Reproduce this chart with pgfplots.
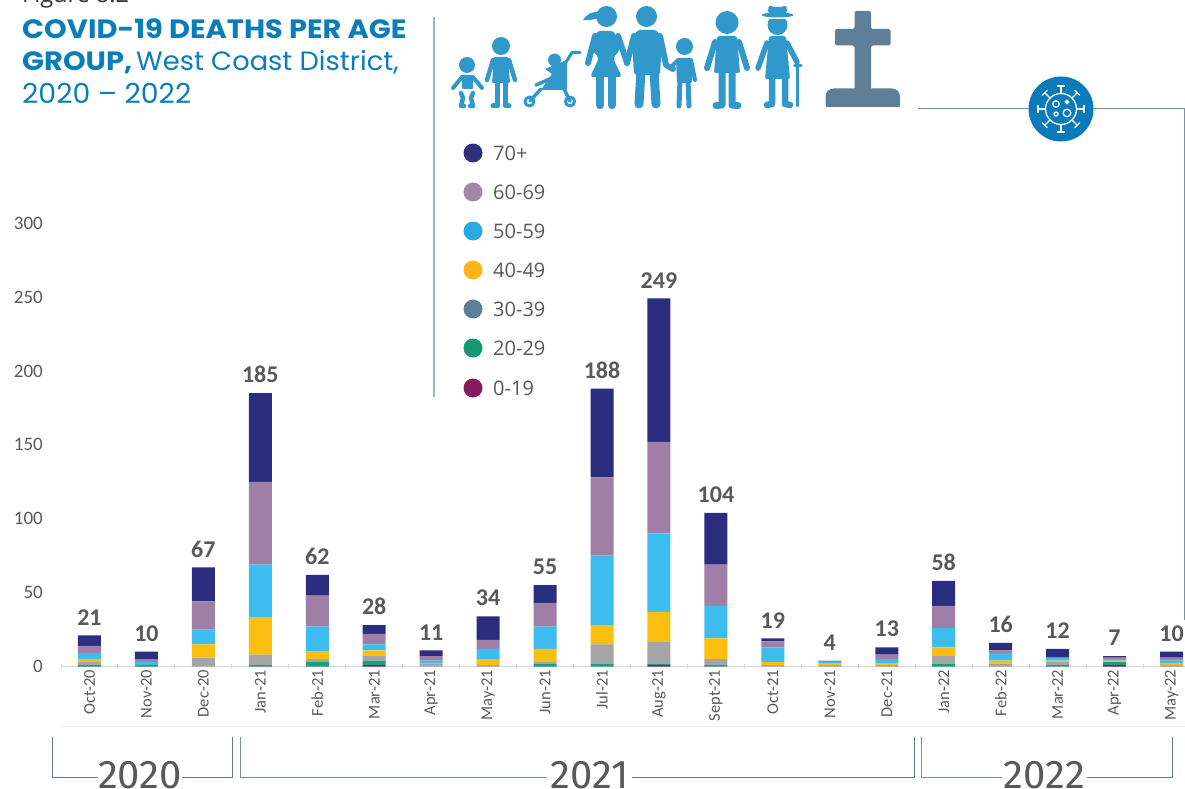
\documentclass[border=0pt]{standalone}
\usepackage{pgfplots}
\usepackage{pgfplotstable}
\usepackage{fontspec}
\usetikzlibrary{calc}
\pgfplotsset{compat=1.18}
\setmainfont{Carlito}
\newfontfamily\titlef[FakeStretch=1.03]{Poppins}
\newfontfamily\titleb[FakeStretch=1.09]{Poppins}
\newfontfamily\legf{Open Sans}
\newfontfamily\yearf{Fira Sans}
\definecolor{cnavy}{HTML}{2B2D7E}
\definecolor{cmauve}{HTML}{9F7FA5}
\definecolor{cblue}{HTML}{3DBDEF}
\definecolor{cyellow}{HTML}{FDBE10}
\definecolor{cgray}{HTML}{A5A5A5}
\definecolor{cgreen}{HTML}{1A9E7C}
\definecolor{cpurple}{HTML}{8B1A5C}
\definecolor{txt}{HTML}{595959}
\definecolor{person}{HTML}{3198CB}
\definecolor{slate}{HTML}{5E7F97}
\definecolor{titleblue}{HTML}{0B7DBB}
\definecolor{virus}{HTML}{0B7ABA}
\pgfplotstableread{
x a b c d e f g total
0 0 1 2 2 4 5 7 21
1 0 1 0 0 2 2 5 10
2 0 0 6 9 10 19 23 67
3 0 1 7 25 36 56 60 185
4 0 3 2 5 17 21 14 62
5 1 3 3 4 4 7 6 28
6 0 0 2 0 2 3 4 11
7 0 0 1 4 7 6 16 34
8 0 2 1 9 15 16 12 55
9 0 2 13 13 47 53 60 188
10 1 1 15 20 53 62 97 249
11 0 1 4 14 22 28 35 104
12 0 0 1 2 10 4 2 19
13 0 0 1 1 1 1 0 4
14 0 0 1 1 3 3 5 13
15 0 2 5 6 13 15 17 58
16 0 0 2 2 5 2 5 16
17 0 1 2 1 2 0 6 12
18 1 2 0 1 1 1 1 7
19 0 0 1 1 2 2 4 10
}\deaths
\begin{document}
\begin{tikzpicture}
\useasboundingbox (0,0) rectangle (1185pt,-789pt);
\clip (0,0) rectangle (1185pt,-789pt);
\begin{axis}[
  at={(61pt,-666.5pt)}, anchor=south west,
  scale only axis, width=1124pt, height=458.18pt,
  xmin=-0.5, xmax=19.237, ymin=0, ymax=310,
  ybar stacked, bar width=23pt, clip=false,
  axis x line=bottom, axis y line=left,
  x axis line style={-, draw=black!15, line width=1.3pt},
  y axis line style={draw=none},
  xtick={0,...,19},
  xticklabels={Oct-20,Nov-20,Dec-20,Jan-21,Feb-21,Mar-21,Apr-21,May-21,Jun-21,Jul-21,Aug-21,Sept-21,Oct-21,Nov-21,Dec-21,Jan-22,Feb-22,Mar-22,Apr-22,May-22},
  minor xtick={-0.5,0.5,...,19},
  xtick style={draw=none},
  minor x tick style={draw=black!15, line width=1pt},
  minor tick length=5pt, major tick length=0pt,
  ytick={0,50,...,300},
  ytick style={draw=none},
  /pgf/number format/assume math mode=true,
  x tick label style={rotate=90, anchor=east, font=\fontsize{16.5}{18}\selectfont, text=txt},
  y tick label style={font=\fontsize{19}{21}\selectfont, text=txt, xshift=-18pt, anchor=east, inner sep=0pt},
]
\addplot[fill=cpurple, draw=none] table[x=x,y=a]{\deaths};
\addplot[fill=cgreen, draw=none] table[x=x,y=b]{\deaths};
\addplot[fill=cgray, draw=none] table[x=x,y=c]{\deaths};
\addplot[fill=cyellow, draw=none] table[x=x,y=d]{\deaths};
\addplot[fill=cblue, draw=none] table[x=x,y=e]{\deaths};
\addplot[fill=cmauve, draw=none] table[x=x,y=f]{\deaths};
\addplot[fill=cnavy, draw=none] table[x=x,y=g]{\deaths};
\end{axis}
\begin{axis}[
  at={(61pt,-666.5pt)}, anchor=south west,
  scale only axis, width=1124pt, height=458.18pt,
  xmin=-0.5, xmax=19.237, ymin=0, ymax=310,
  hide axis, clip=false,
  /pgf/number format/assume math mode=true,
]
\addplot[only marks, mark=none, draw=none, point meta=y,
  nodes near coords,
  every node near coord/.append style={font=\fontsize{24}{26}\selectfont\bfseries, text=txt, inner sep=0pt, anchor=south, yshift=10pt}]
  table[x=x,y=total]{\deaths};
\end{axis}
\begin{scope}[x=1pt,y=-1pt]
% figure label and title
\node[anchor=base west, inner sep=0pt, text=black!80] at (22,3) {\legf\fontsize{23.5}{25}\selectfont Figure 8.2};
\node[anchor=base west, inner sep=0pt, text=titleblue] at (22,38.3) {\titleb\fontsize{26.5}{28}\selectfont\bfseries COVID-19 DEATHS PER AGE};
\node[anchor=base west, inner sep=0pt, text=titleblue] at (22,70.7) {\titleb\fontsize{26.5}{28}\selectfont\bfseries GROUP,};
\node[anchor=base west, inner sep=0pt, text=titleblue] at (136,70.7) {\titlef\fontsize{26.5}{28}\selectfont West Coast District,};
\node[anchor=base west, inner sep=0pt, text=titleblue] at (22,103) {\titlef\fontsize{27.5}{29}\selectfont 2020 – 2022};
% divider and connector lines
\draw[color=slate!60, line width=1.2pt] (434,17) -- (434,397);
\draw[color=slate!85, line width=1pt] (918,109) -- (1184,109) -- (1184,620);
% light rule below the month labels
\draw[color=black!6, line width=1pt] (61,726) -- (1185,726);
% legend
\foreach \yy/\cc/\tt in {153/2E3080/70+,192/A387A8/60-69,231/29ABE2/50-59,270/FDB515/40-49,309/5D7F97/30-39,348/179873/20-29,388/8A1A5E/0-19}{
  \definecolor{lc}{HTML}{\cc}
  \fill[lc] (473,\yy) circle (9.5);
  \node[anchor=base west, inner sep=0pt, text=txt] at (493,\yy+7) {\legf\fontsize{20}{22}\selectfont \tt};
}
% year brackets
\draw[slate, line width=1pt] (98,777) -- (52.5,777) -- (52.5,737);
\draw[slate, line width=1pt] (182,777) -- (232.5,777) -- (232.5,737);
\draw[slate!85, line width=1pt] (547,777) -- (240,777) -- (240,737);
\draw[slate, line width=1pt] (632,777) -- (914.5,777) -- (914.5,737);
\draw[slate!85, line width=1pt] (1002,777) -- (921.5,777) -- (921.5,737);
\draw[slate, line width=1pt] (1087,777) -- (1172,777) -- (1172,737);
\node[inner sep=0pt, text=txt, anchor=base] at (140,788.5) {\yearf\fontsize{40}{42}\selectfont 2020};
\node[inner sep=0pt, text=txt, anchor=base] at (589.5,788.5) {\yearf\fontsize{40}{42}\selectfont 2021};
\node[inner sep=0pt, text=txt, anchor=base] at (1044.5,788.5) {\yearf\fontsize{40}{42}\selectfont 2022};
% people
\begin{scope}[color=person, fill=person, line cap=round, line join=round]
% baby
\fill (467,65) circle (8);
\fill[rounded corners=1pt] (462,75) -- (473,75) -- (473,89) -- (462,89) -- cycle;
\draw[line width=4pt] (462,77) -- (453,88) (473,77) -- (482,88);
\draw[line width=4.5pt] (461,93) -- (463,98) -- (461,106) -- (464,106) (473,93) -- (471,98) -- (473,106) -- (470,106);
% child
\fill (501,46) circle (9);
\fill[rounded corners=1pt] (494,57) -- (508,57) -- (510,83) -- (492,83) -- cycle;
\draw[line width=4.5pt] (493,60) -- (487,80) (509,60) -- (515,80);
\draw[line width=5pt] (497,83) -- (497,106) -- (493,106) (505.5,83) -- (505.5,106) -- (509,106);
% stroller
\draw[line width=3pt, fill=white] (529.5,101.5) circle (4.5) (570,101.5) circle (4.5);
\fill (554.5,60) circle (6.5);
\draw[line width=3pt, fill=none] (580,52.5) -- (572,52.5) -- (560,72);
\fill[rounded corners=1pt] (545,69) -- (567,60) -- (567,90) -- (541,90) -- (552,74) -- cycle;
\draw[line width=3.5pt] (541,89) -- (530,101) (564,89) -- (570,101) (552,78) -- (536,85);
% woman
\fill (606.5,16.5) circle (10.5);
\fill (600,13) .. controls (592,10) and (586,15) .. (583,20) .. controls (590,21) and (596,19) .. (600,17) -- cycle;
\fill[rounded corners=3pt] (597,31) -- (614,31) -- (620,50) -- (613,58) -- (622,77) -- (590,77) -- (599,58) -- (592,50) -- cycle;
\draw[line width=6pt] (595,36) -- (588,63) (618,36) -- (627,63);
\draw[line width=8.5pt] (600,77) -- (600,105) (612,77) -- (612,105);
% man
\fill (646.5,16.5) circle (10.5);
\fill[rounded corners=3pt] (637,30) -- (657,30) -- (662,40) -- (660,75) -- (634,75) -- (632,40) -- cycle;
\draw[line width=9pt] (641,70) -- (639,104) (654,70) -- (656,104);
\draw[line width=6pt] (634,36) -- (627,63) (660,36) -- (666,65) -- (673,69);
% second child
\fill (684.5,46.5) circle (8.5);
\fill[rounded corners=2pt] (676,58) -- (692,58) -- (692,83) -- (677,83) -- cycle;
\draw[line width=4pt] (691,60) -- (695,80) (677,61) -- (670,68);
\draw[line width=5pt] (680,80) -- (679,106) (688,80) -- (689,106);
% adult
\fill (727,22.5) circle (11.5);
\fill[rounded corners=2pt] (717,36) -- (737,36) -- (740,73) -- (714,73) -- cycle;
\draw[line width=6pt] (715,42) -- (707,68) (739,42) -- (747,68);
\draw[line width=7pt] (722,73) -- (722,105) -- (716,105.5) (732,73) -- (732,105) -- (738,105.5);
% elder
\begin{scope}
\clip (760,19.5) rectangle (800,40);
\fill (777.5,25) circle (10);
\end{scope}
\fill (777.5,15) ellipse (16 and 2.5);
\fill[rounded corners=2pt] (768.5,5.5) -- (775,7) -- (781,7) -- (786.5,5.5) -- (787,13) -- (768,13) -- cycle;
\fill[rounded corners=2pt] (769,36) -- (786,36) -- (790,79) -- (765,79) -- cycle;
\draw[line width=5.5pt] (767,43) -- (758,68) (787,43) -- (797,62);
\draw[line width=6.5pt] (772,79) -- (772,104) -- (767,105) (785,79) -- (785,104) -- (790,105);
\draw[line width=2.5pt] (797.5,66) -- (797.5,106);
\draw[line width=3pt] (794.5,66) -- (801,66);
\end{scope}
% gravestone
\fill[slate, rounded corners=2pt] (854.5,11) -- (871,11) -- (871,29) -- (890.5,29) -- (890.5,45.5) -- (871,45.5) -- (871,92) -- (854.5,92) -- (854.5,45.5) -- (835,45.5) -- (835,29) -- (854.5,29) -- cycle;
\fill[slate, rounded corners=8pt] (825.5,112) -- (825.5,88.5) -- (900,88.5) -- (900,112) -- cycle;
\fill[white] (820,107) rectangle (905,114);
% virus badge
\fill[virus] (1061,109) circle (32.5);
\begin{scope}[color=white, line width=1.3pt, line cap=round]
\draw (1061,109) circle (15.5);
\foreach \ang in {0,45,...,315}{
  \draw ($(1061,109)+(\ang:15.5)$) -- ($(1061,109)+(\ang:23)$);
  \draw ($(1061,109)+(\ang:23)+(\ang+90:3.5)$) -- ($(1061,109)+(\ang:23)+(\ang-90:3.5)$);
}
\draw (1056,104) circle (3.2) (1067,113) circle (3.8) (1056,114) circle (2) (1067,102) circle (1.6);
\end{scope}
\end{scope}
\end{tikzpicture}
\end{document}
